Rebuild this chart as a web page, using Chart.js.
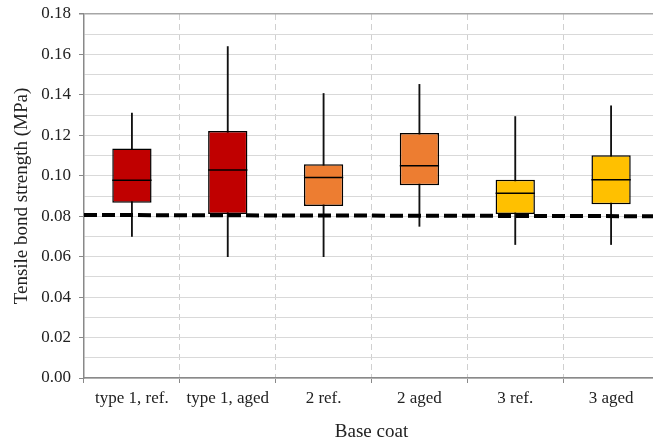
<!DOCTYPE html>
<html>
<head>
<meta charset="utf-8">
<script src="https://cdn.jsdelivr.net/npm/chart.js@4"></script>
<style>
    html, body { margin: 0; padding: 0; background: #fff; overflow: hidden; }
</style>
</head>
<body>
<canvas id="boxChart" width="659" height="443"></canvas>
<script>
const categories = ['type 1, ref.', 'type 1, aged', '2 ref.', '2 aged', '3 ref.', '3 aged'];
const whiskerMin = [0.070, 0.060, 0.060, 0.075, 0.066, 0.066];
const quartile1 = [0.0867, 0.0811, 0.0851, 0.0953, 0.0811, 0.0859];
const medians = [0.0978, 0.1029, 0.0991, 0.1049, 0.0914, 0.0980];
const quartile3 = [0.1135, 0.1222, 0.1057, 0.1211, 0.0980, 0.1102];
const whiskerMax = [0.1310, 0.1639, 0.1407, 0.1452, 0.1293, 0.1346];
const boxColors = ['#C00000', '#C00000', '#ED7D31', '#ED7D31', '#FFC000', '#FFC000'];
// dashed reference line, value at left and right edge
const refLine = [0.0806, 0.0800];

const fontFamily = '"Liberation Serif", "Times New Roman", serif';

const boxExtras = {
    id: 'boxExtras',
    afterDatasetsDraw(chart) {
        const { ctx, chartArea, scales: { y } } = chart;
        const boxes = chart.getDatasetMeta(0).data;
        ctx.save();
        ctx.strokeStyle = '#000';
        ctx.lineWidth = 1.5;
        //median line inside every box
        boxes.forEach((bar, i) => {
            const py = y.getPixelForValue(medians[i]);
            ctx.beginPath();
            ctx.moveTo(bar.x - bar.width / 2, py);
            ctx.lineTo(bar.x + bar.width / 2, py);
            ctx.stroke();
        });
        //the dashed limit line
        ctx.setLineDash([13, 5]);
        ctx.lineWidth = 4;
        ctx.beginPath();
        ctx.moveTo(chartArea.left, y.getPixelForValue(refLine[0]));
        ctx.lineTo(chartArea.right, y.getPixelForValue(refLine[1]));
        ctx.stroke();
        ctx.restore();
    }
};

const ctx = document.getElementById('boxChart').getContext('2d');
new Chart(ctx, {
    type: 'bar',
    data: {
        labels: categories,
        datasets: [{
            label: 'Box',
            data: categories.map((c, i) => [quartile1[i], quartile3[i]]),
            backgroundColor: boxColors,
            borderColor: '#000',
            borderWidth: 1.5,
            borderSkipped: false,
            grouped: false,
            barPercentage: 0.41,
            categoryPercentage: 1,
            order: 0
        }, {
            label: 'Whisker',
            data: categories.map((c, i) => [whiskerMin[i], whiskerMax[i]]),
            backgroundColor: '#111',
            borderWidth: 0,
            grouped: false,
            barThickness: 1.2,
            order: 1
        }]
    },
    options: {
        responsive: false,
        animation: false,
        layout: { padding: { top: 14, left: 0, right: 0, bottom: 0 } },
        plugins: {
            legend: { display: false },
            tooltip: { enabled: false }
        },
        scales: {
            x: {
                afterFit: scale => { scale.height = 65; },
                grid: {
                    offset: true,
                    color: '#d0d0d0',
                    lineWidth: 1,
                    tickLength: 5,
                    tickColor: '#898989'
                },
                border: { color: '#898989', width: 1.5, dash: [6, 4] },
                ticks: {
                    color: '#222',
                    font: { family: fontFamily, size: 17 },
                    padding: 5
                },
                title: {
                    display: true,
                    text: 'Base coat',
                    color: '#222',
                    font: { family: fontFamily, size: 19 },
                    padding: { top: 4, bottom: 0 }
                }
            },
            y: {
                min: 0,
                max: 0.18,
                afterFit: scale => {
                    scale.width = 84;
                    scale.paddingTop = 0;
                    scale.paddingBottom = 0;
                },
                grid: {
                    color: c => c.index === 18 ? '#a6a6a6' : '#d9d9d9',
                    lineWidth: c => c.index === 18 ? 1.5 : 1,
                    tickLength: 5,
                    tickColor: c => c.index % 2 === 0 ? '#898989' : 'rgba(0,0,0,0)'
                },
                border: { color: '#898989', width: 1.5 },
                ticks: {
                    stepSize: 0.01,
                    autoSkip: false,
                    color: '#222',
                    font: { family: fontFamily, size: 17 },
                    padding: 8,
                    callback: (v) => Math.round(v * 100) % 2 === 0 ? v.toFixed(2) : ''
                },
                title: {
                    display: true,
                    text: 'Tensile bond strength (MPa)',
                    color: '#222',
                    font: { family: fontFamily, size: 19 },
                    padding: { top: 11, bottom: 2 }
                }
            }
        }
    },
    plugins: [boxExtras]
});
</script>
</body>
</html>
